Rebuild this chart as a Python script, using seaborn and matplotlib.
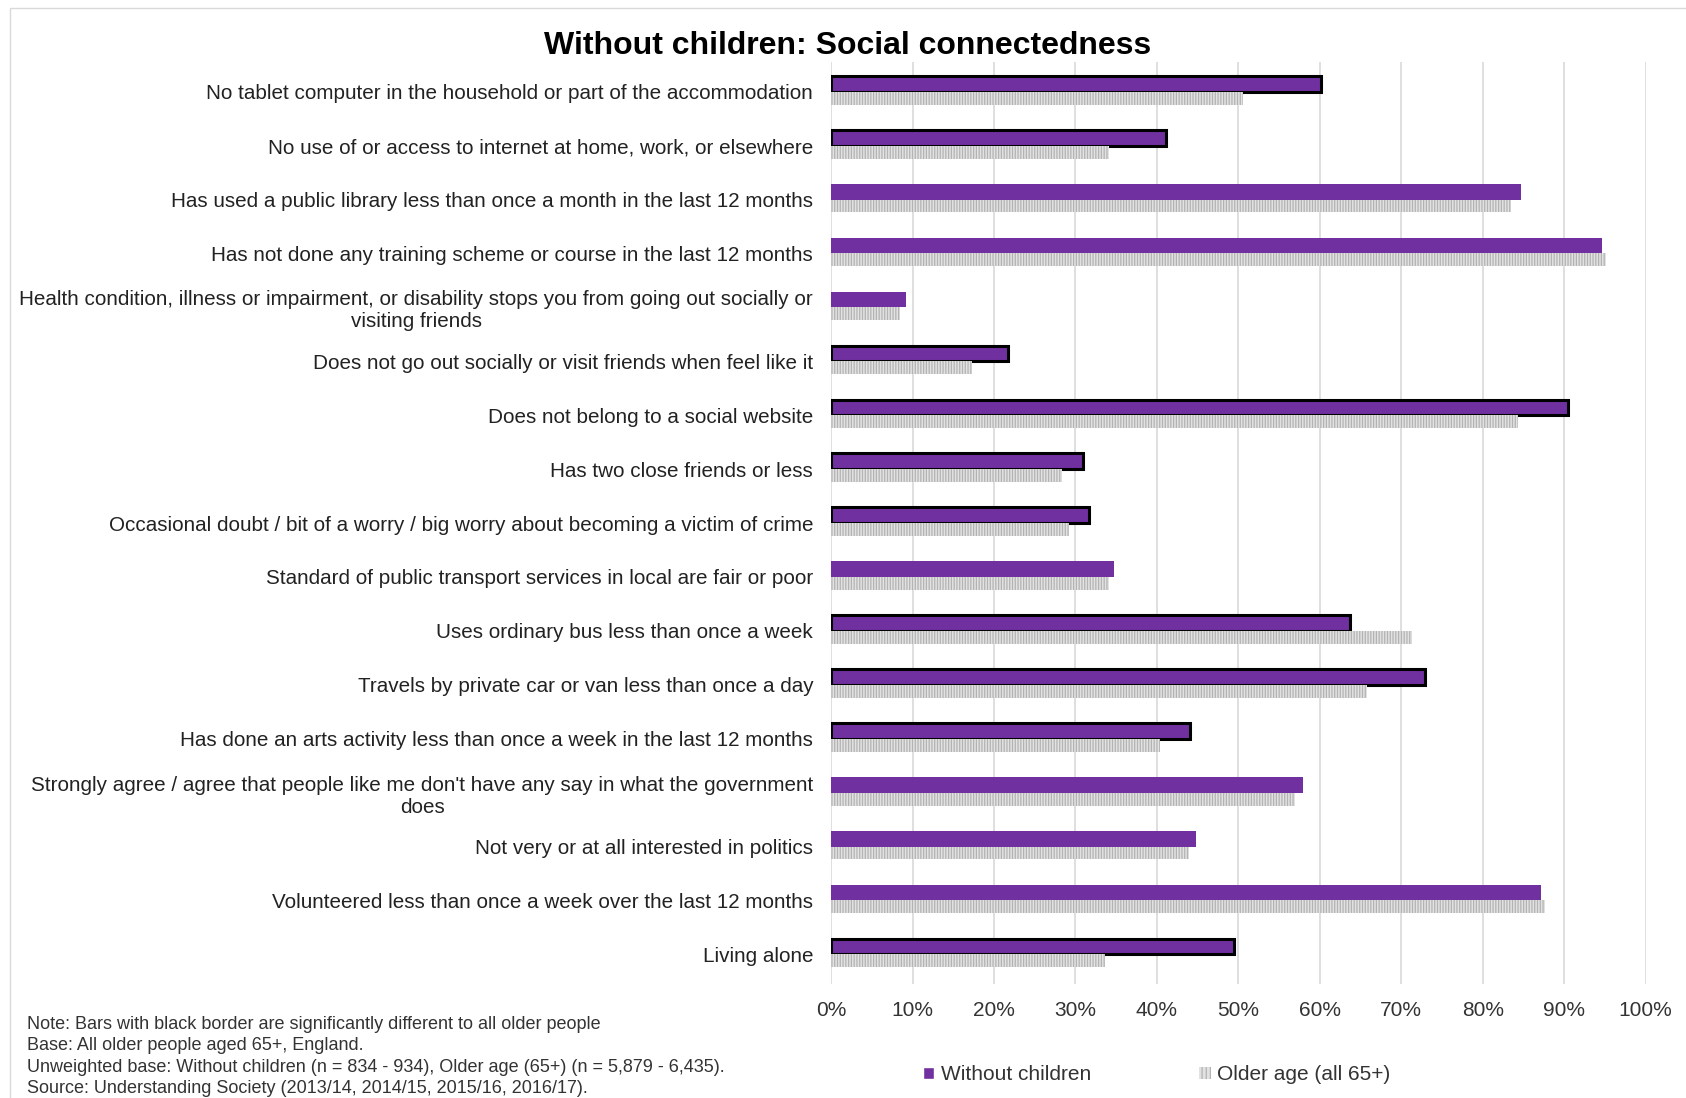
import pandas as pd
import matplotlib.pyplot as plt
import seaborn as sns
from matplotlib.patches import Patch, Rectangle
from matplotlib.ticker import PercentFormatter

# Dados
categories = [
    "No tablet computer in the household or part of the accommodation",
    "No use of or access to internet at home, work, or elsewhere",
    "Has used a public library less than once a month in the last 12 months",
    "Has not done any training scheme or course in the last 12 months",
    "Health condition, illness or impairment, or disability stops you from going out socially or\nvisiting friends",
    "Does not go out socially or visit friends when feel like it",
    "Does not belong to a social website",
    "Has two close friends or less",
    "Occasional doubt / bit of a worry / big worry about becoming a victim of crime",
    "Standard of public transport services in local are fair or poor",
    "Uses ordinary bus less than once a week",
    "Travels by private car or van less than once a day",
    "Has done an arts activity less than once a week in the last 12 months",
    "Strongly agree / agree that people like me don't have any say in what the government\ndoes",
    "Not very or at all interested in politics",
    "Volunteered less than once a week over the last 12 months",
    "Living alone",
]
without_children = [60.1, 41.1, 84.7, 94.6, 9.2, 21.7, 90.5, 30.9, 31.7, 34.7,
                    63.7, 72.9, 44.0, 57.9, 44.8, 87.2, 49.5]
older_age = [50.6, 34.1, 83.5, 95.2, 8.5, 17.3, 84.4, 28.3, 29.2, 34.1,
             71.3, 65.8, 40.4, 56.9, 43.9, 87.7, 33.6]
significant = [True, True, False, False, False, True, True, True, True, False,
               True, True, True, False, False, False, True]
series = ["Without children", "Older age (all 65+)"]

notes = [
    "Note: Bars with black border are significantly different to all older people",
    "Base: All older people aged 65+, England.",
    "Unweighted base: Without children (n = 834 - 934), Older age (65+) (n = 5,879 - 6,435).",
    "Source: Understanding Society (2013/14, 2014/15, 2015/16, 2016/17).",
]

df = pd.DataFrame({
    "categoria": categories * 2,
    "valor": without_children + older_age,
    "serie": [series[0]] * len(categories) + [series[1]] * len(categories),
})

purple = "#7030a0"
grey = "#e2e2e2"
hatch_grey = "#b3b3b3"

# plotando
sns.set_style("white")
plt.rcParams["font.family"] = ["Liberation Sans", "DejaVu Sans"]
plt.rcParams["hatch.linewidth"] = 0.9

fig = plt.figure(figsize=(16.86, 10.98), dpi=100)
ax = fig.add_axes([0.493, 0.1038, 0.483, 0.8397])

sns.barplot(data=df, y="categoria", x="valor", hue="serie", orient="h",
            palette=[purple, grey], width=0.58, dodge=True, legend=False,
            saturation=1, ax=ax)

# Bordas e hachuras
for bar, sig in zip(ax.containers[0], significant):
    if sig:
        bar.set_edgecolor("black")
        bar.set_linewidth(2.2)
    else:
        bar.set_linewidth(0)
for bar in ax.containers[1]:
    bar.set_height(0.24)
    bar.set_hatch("||||||")
    bar.set_edgecolor(hatch_grey)
    bar.set_linewidth(0)

ax.set_xlim(0, 100)
ax.set_ylim(len(categories) - 0.45, -0.55)
ax.xaxis.set_major_locator(plt.MultipleLocator(10))
ax.xaxis.set_major_formatter(PercentFormatter(decimals=0))
ax.grid(axis="x", color="#d9d9d9", linewidth=1.2)
ax.set_axisbelow(True)
for s in ax.spines.values():
    s.set_visible(False)
ax.tick_params(axis="y", length=0, pad=13, labelsize=14.9, labelcolor="#222222")
ax.tick_params(axis="x", length=0, pad=12, labelsize=15, labelcolor="#333333")
for lbl in ax.get_yticklabels():
    lbl.set_multialignment("center")
ax.set_xlabel("")
ax.set_ylabel("")

# Títulos e rótulos
fig.text(0.503, 0.958, "Without children: Social connectedness", ha="center", va="center",
         fontsize=23, fontweight="bold", color="black")

for txt, y in zip(notes, [0.0665, 0.0475, 0.0275, 0.009]):
    fig.text(0.016, y, txt, ha="left", va="center", fontsize=13, color="#333333")

handles = [Patch(facecolor=purple, label=series[0]),
           Patch(facecolor=grey, edgecolor=hatch_grey, hatch="||||", linewidth=0, label=series[1])]
fig.legend(handles=handles, loc="center", bbox_to_anchor=(0.686, 0.021), ncol=2, frameon=False,
           fontsize=15, handlelength=0.55, handleheight=0.55, handletextpad=0.3,
           columnspacing=5.2, labelcolor="#333333")

fig.add_artist(Rectangle((0.006, -0.01), 1.2, 1.003, transform=fig.transFigure,
                         fill=False, edgecolor="#d9d9d9", linewidth=1))

fig.savefig("out.png", dpi=100)
